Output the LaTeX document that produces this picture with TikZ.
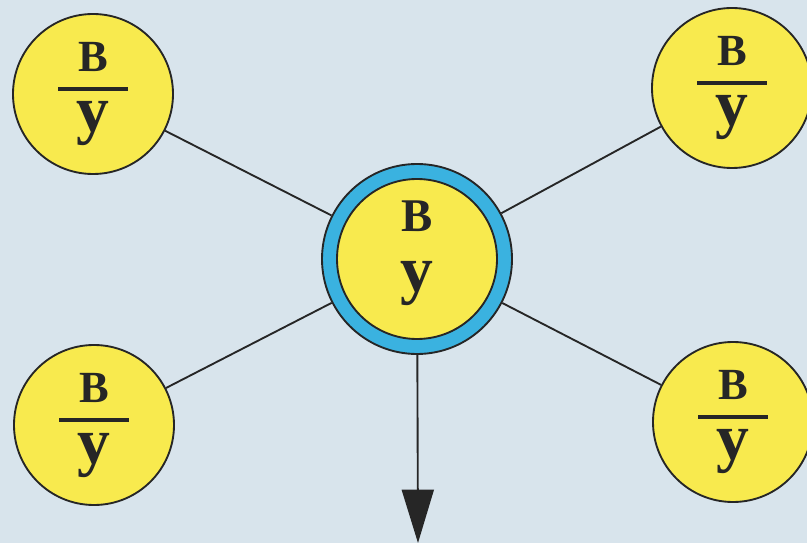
\documentclass[tikz,border=0pt]{standalone}
\usepackage{fontspec}
\setmainfont{Liberation Serif}
\usetikzlibrary{arrows.meta,calc}
\definecolor{bgblue}{RGB}{216,228,236}
\definecolor{discyellow}{RGB}{248,234,78}
\definecolor{ringblue}{RGB}{58,178,224}
\definecolor{inkgrey}{RGB}{38,38,38}
\begin{document}
\begin{tikzpicture}[x=0.03cm, y=-0.03cm,
    disc/.style={circle, draw=inkgrey, line width=1.6pt, fill=discyellow, minimum size=4.8cm, inner sep=0pt},
    ring/.style={circle, draw=inkgrey, line width=1.6pt, fill=ringblue, minimum size=5.7cm, inner sep=0pt},
    bigB/.style={inner sep=0pt, anchor=base, text=inkgrey, font=\bfseries\fontsize{38}{40}\selectfont},
    bigy/.style={inner sep=0pt, anchor=base, text=inkgrey, font=\bfseries\fontsize{56}{60}\selectfont},
    spoke/.style={inkgrey, line width=1.6pt}]
    \fill[bgblue] (0,0) rectangle (807,543);
    \useasboundingbox (0,0) rectangle (807,543);
    % outer discs with fractions
    \foreach \i/\x/\y in {1/93/94, 2/732/88, 3/94/425, 4/733/422} {
        \node[disc] (v\i) at (\x,\y) {};
        \node[bigB] (b\i) at ($(v\i)+(0,-22)$) {B};
        \node[bigy] (y\i) at ($(v\i)+(0,38)$) {y};
        \draw[inkgrey, line width=3.5pt] ($(v\i)+(-35,-5)$) -- ($(v\i)+(35,-5)$);
    }
    % centre disc
    \node[ring] (c) at (417,259) {};
    \node[disc] (ci) at (c) {};
    \node[bigB, font=\bfseries\fontsize{40}{42}\selectfont] (bc) at ($(c)+(0,-27)$) {B};
    \node[bigy] (yc) at ($(c)+(0,33)$) {y};
    \foreach \i in {1,...,4} {
        \draw[spoke] (v\i) -- (c);
    }
    \coordinate (tip) at (418,543);
    \draw[spoke, -{Triangle[length=1.6cm, width=0.96cm]}] (c) -- (tip);
\end{tikzpicture}
\end{document}
